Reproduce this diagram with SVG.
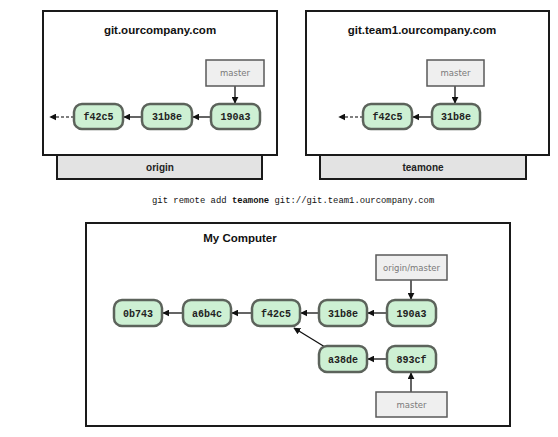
<svg xmlns="http://www.w3.org/2000/svg" width="558" height="437" viewBox="0 0 558 437">
<style>
.frame{fill:#fff;stroke:#1a1a1a;stroke-width:2}
.tab{fill:#e3e3e3;stroke:#1a1a1a;stroke-width:2}
.title{font-family:"Liberation Sans",Arial,sans-serif;font-weight:bold;font-size:11.5px;fill:#111;text-anchor:middle}
.tabt{font-family:"Liberation Sans",Arial,sans-serif;font-weight:bold;font-size:10px;fill:#222;text-anchor:middle}
.commit rect{fill:#cdf0d3;stroke:#5c635b;stroke-width:2.5}
.commit text{font-family:"Liberation Mono","Courier New",monospace;font-weight:bold;font-size:10px;fill:#222;text-anchor:middle}
.ref rect{fill:#efefef;stroke:#5a5a5a;stroke-width:1.5}
.ref text{font-family:"DejaVu Sans","Liberation Sans",sans-serif;font-size:8.5px;fill:#7a7a7a;text-anchor:middle}
.conn line{stroke:#111;stroke-width:1.3;marker-end:url(#ah)}
.conn line.dash{stroke:#555;stroke-dasharray:3,2}
.cmd{font-family:"Liberation Mono","DejaVu Sans Mono",monospace;font-size:8.9px;fill:#111}
</style>
<defs>
<marker id="ah" viewBox="0 0 10 10" refX="9" refY="5" markerWidth="7" markerHeight="7" markerUnits="userSpaceOnUse" orient="auto">
<path d="M0,0 L10,5 L0,10 z" fill="#111"/>
</marker>
</defs>

<g id="origin-server">
<rect class="tab" x="57" y="155" width="205" height="24"/>
<rect class="frame" x="43" y="11" width="234" height="144"/>
<text class="title" x="160" y="34">git.ourcompany.com</text>
<text class="tabt" x="160" y="170.5">origin</text>
</g>
<g id="teamone-server">
<rect class="tab" x="320" y="155" width="206" height="24"/>
<rect class="frame" x="306" y="11" width="243" height="144"/>
<text class="title" x="422" y="34">git.team1.ourcompany.com</text>
<text class="tabt" x="423" y="170.5">teamone</text>
</g>
<g id="my-computer">
<rect class="frame" x="86" y="223" width="424" height="203"/>
<text class="title" x="240" y="242">My Computer</text>
</g>

<text class="cmd" x="152" y="203">git remote add <tspan font-weight="bold">teamone</tspan> git://git.team1.ourcompany.com</text>

<g class="conn" id="connectors">
<line x1="235" y1="86" x2="235" y2="103"/>
<line x1="211" y1="117" x2="193" y2="117"/>
<line x1="142" y1="117" x2="124" y2="117"/>
<line class="dash" x1="74" y1="117" x2="50" y2="117"/>
<line x1="455" y1="86" x2="455" y2="103"/>
<line x1="432" y1="117" x2="413" y2="117"/>
<line class="dash" x1="363" y1="117" x2="339" y2="117"/>
<line x1="411" y1="280" x2="411" y2="299"/>
<line x1="387" y1="313" x2="368" y2="313"/>
<line x1="319" y1="313" x2="301" y2="313"/>
<line x1="252" y1="313" x2="232" y2="313"/>
<line x1="183" y1="313" x2="163" y2="313"/>
<line x1="325" y1="347" x2="294" y2="328"/>
<line x1="387" y1="359" x2="368" y2="359"/>
<line x1="411" y1="392" x2="411" y2="373"/>
</g>

<g id="o-master" class="ref"><rect x="206" y="60" width="58" height="26"/><text x="235" y="76">master</text></g>
<g id="o-f42c5" class="commit"><rect x="74" y="104" width="49" height="25" rx="8"/><text x="98.5" y="120">f42c5</text></g>
<g id="o-31b8e" class="commit"><rect x="142" y="104" width="50" height="25" rx="8"/><text x="167" y="120">31b8e</text></g>
<g id="o-190a3" class="commit"><rect x="211" y="104" width="49" height="25" rx="8"/><text x="235.5" y="120">190a3</text></g>

<g id="t-master" class="ref"><rect x="427" y="60" width="57" height="26"/><text x="455.5" y="76">master</text></g>
<g id="t-f42c5" class="commit"><rect x="363" y="104" width="49" height="25" rx="8"/><text x="387.5" y="120">f42c5</text></g>
<g id="t-31b8e" class="commit"><rect x="432" y="104" width="48" height="25" rx="8"/><text x="456" y="120">31b8e</text></g>

<g id="l-origin-master" class="ref"><rect x="376" y="255" width="71" height="25"/><text x="411.5" y="270.5">origin/master</text></g>
<g id="l-0b743" class="commit"><rect x="114" y="300" width="48" height="26" rx="8"/><text x="138" y="316.5">0b743</text></g>
<g id="l-a6b4c" class="commit"><rect x="183" y="300" width="48" height="26" rx="8"/><text x="207" y="316.5">a6b4c</text></g>
<g id="l-f42c5" class="commit"><rect x="252" y="300" width="48" height="26" rx="8"/><text x="276" y="316.5">f42c5</text></g>
<g id="l-31b8e" class="commit"><rect x="319" y="300" width="48" height="26" rx="8"/><text x="343" y="316.5">31b8e</text></g>
<g id="l-190a3" class="commit"><rect x="387" y="300" width="49" height="26" rx="8"/><text x="411.5" y="316.5">190a3</text></g>
<g id="l-a38de" class="commit"><rect x="319" y="346" width="48" height="26" rx="8"/><text x="343" y="362.5">a38de</text></g>
<g id="l-893cf" class="commit"><rect x="387" y="346" width="49" height="26" rx="8"/><text x="411.5" y="362.5">893cf</text></g>
<g id="l-master" class="ref"><rect x="376" y="392" width="71" height="25"/><text x="411.5" y="407.5">master</text></g>
</svg>
